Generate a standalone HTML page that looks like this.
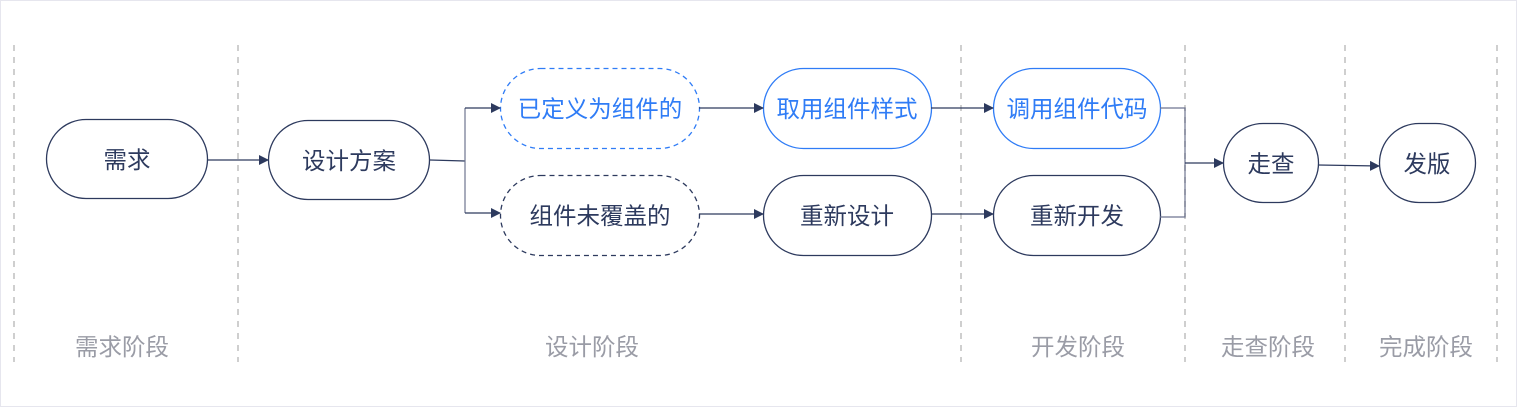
<!DOCTYPE html>
<html><head><meta charset="utf-8"><style>
html,body{margin:0;padding:0;background:#fff;}
svg{display:block;}
text{font-family:"Liberation Sans","Noto Sans CJK SC",sans-serif;}
</style></head><body>
<svg width="1517" height="407" viewBox="0 0 1517 407" xmlns="http://www.w3.org/2000/svg">
<defs>
<marker id="a" markerWidth="10" markerHeight="10" refX="9" refY="5" orient="auto" markerUnits="userSpaceOnUse">
<path d="M0,0 L10,5 L0,10 z" fill="#2d3a5e"/></marker>
</defs>
<rect x="0.5" y="0.5" width="1516" height="406" fill="#fff" stroke="#e6e6ee"/>
<g stroke="#cfcfcf" stroke-width="2" stroke-dasharray="6 6">
<line x1="14" y1="45" x2="14" y2="362"/>
<line x1="238" y1="45" x2="238" y2="362"/>
<line x1="961" y1="45" x2="961" y2="362"/>
<line x1="1185" y1="45" x2="1185" y2="362"/>
<line x1="1345" y1="45" x2="1345" y2="362"/>
<line x1="1497" y1="45" x2="1497" y2="362"/>
</g>
<g font-size="23.5" fill="#9a9ca6" text-anchor="middle">
<text x="122" y="355">需求阶段</text>
<text x="592" y="355">设计阶段</text>
<text x="1078" y="355">开发阶段</text>
<text x="1268" y="355">走查阶段</text>
<text x="1426" y="355">完成阶段</text>
</g>
<g fill="#fff" stroke-width="1.3">
<rect x="46.5" y="119.5" width="161" height="79" rx="39.5" stroke="#2d3a5e"/>
<rect x="268.5" y="120.5" width="161" height="79" rx="39.5" stroke="#2d3a5e"/>
<rect x="500.5" y="68.5" width="199" height="80" rx="40" stroke="#2f7cf6" stroke-dasharray="5 4"/>
<rect x="500.5" y="175.5" width="199" height="80" rx="40" stroke="#2d3a5e" stroke-dasharray="5 4"/>
<rect x="763.5" y="68.5" width="168" height="80" rx="40" stroke="#2f7cf6"/>
<rect x="763.5" y="175.5" width="168" height="80" rx="40" stroke="#2d3a5e"/>
<rect x="993.5" y="68.5" width="167" height="80" rx="40" stroke="#2f7cf6"/>
<rect x="993.5" y="175.5" width="167" height="80" rx="40" stroke="#2d3a5e"/>
<rect x="1223.5" y="123.5" width="95" height="79" rx="39.5" stroke="#2d3a5e"/>
<rect x="1379.5" y="123.5" width="96" height="79" rx="39.5" stroke="#2d3a5e"/>
</g>
<g font-size="23.5" text-anchor="middle" fill="#2d3a5e">
<text x="127" y="168">需求</text>
<text x="349" y="169">设计方案</text>
<text x="600" y="117" fill="#2f7cf6">已定义为组件的</text>
<text x="600" y="224">组件未覆盖的</text>
<text x="847" y="117" fill="#2f7cf6">取用组件样式</text>
<text x="847" y="224">重新设计</text>
<text x="1077" y="117" fill="#2f7cf6">调用组件代码</text>
<text x="1077" y="224">重新开发</text>
<text x="1271" y="172">走查</text>
<text x="1427" y="172">发版</text>
</g>
<g stroke="#2d3a5e" stroke-width="1.2" fill="none">
<line x1="207" y1="160" x2="268" y2="160" marker-end="url(#a)"/>
<polyline points="430,160 465,161"/>
<polyline points="465,108 465,213" stroke="#6e7590"/>
<line x1="465" y1="108" x2="500" y2="108" marker-end="url(#a)"/>
<line x1="465" y1="213" x2="500" y2="213" marker-end="url(#a)"/>
<line x1="699" y1="108" x2="763" y2="108" marker-end="url(#a)"/>
<line x1="699" y1="214" x2="763" y2="214" marker-end="url(#a)"/>
<line x1="931" y1="108" x2="993" y2="108" marker-end="url(#a)"/>
<line x1="931" y1="214" x2="993" y2="214" marker-end="url(#a)"/>
<polyline points="1160,108 1185,108 1185,217 1160,217" stroke="#6e7590"/>
<line x1="1185" y1="163" x2="1223" y2="163" marker-end="url(#a)"/>
<line x1="1318" y1="165" x2="1379" y2="166" marker-end="url(#a)"/>
</g>
</svg>
</body></html>
